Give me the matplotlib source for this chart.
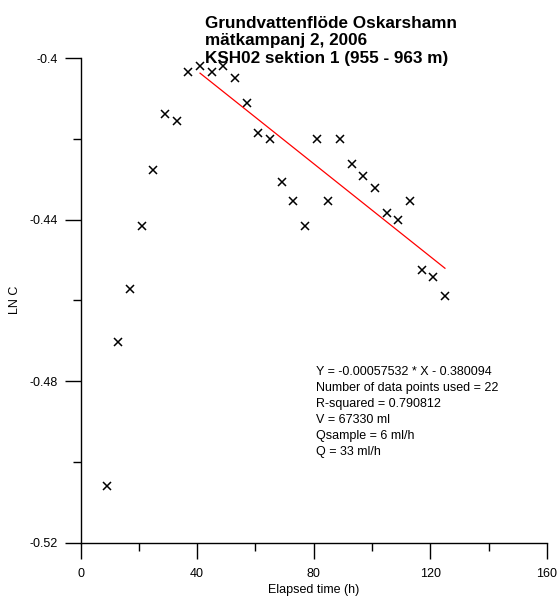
import numpy as np
import matplotlib
matplotlib.use("Agg")
import matplotlib.pyplot as plt
from matplotlib.ticker import MultipleLocator, FuncFormatter

plt.rcParams['font.family'] = ['Liberation Sans', 'DejaVu Sans']
plt.rcParams['axes.unicode_minus'] = False

# Datos
tiempo = [9, 13, 17, 21, 25, 29, 33, 37, 41, 45, 49, 53, 57, 61, 65, 69, 73,
          77, 81, 85, 89, 93, 97, 101, 105, 109, 113, 117, 121, 125]
ln_c = [-0.5059, -0.4702, -0.4572, -0.4415, -0.4277, -0.4139, -0.4155,
        -0.4035, -0.4019, -0.4035, -0.4019, -0.4050, -0.4110, -0.4184,
        -0.4201, -0.4307, -0.4353, -0.4415, -0.4201, -0.4353, -0.4201,
        -0.4262, -0.4292, -0.4322, -0.4384, -0.4400, -0.4353, -0.4524,
        -0.4541, -0.4588]

# Recta de regresion (coeficientes del texto)
pendiente = -0.00057532
intercepto = -0.380094
rango_ajuste = [41, 125]

titulo = ["Grundvattenflöde Oskarshamn",
          "mätkampanj 2, 2006",
          "KSH02 sektion 1 (955 - 963 m)"]
info = ["Y = -0.00057532 * X - 0.380094",
        "Number of data points used = 22",
        "R-squared = 0.790812",
        "V = 67330 ml",
        "Qsample = 6 ml/h",
        "Q = 33 ml/h"]

W, H = 559, 599
fig = plt.figure(figsize=(W / 100, H / 100), dpi=100, facecolor='white')
ax = fig.add_axes([80.5 / W, 1 - 542.7 / H, (547 - 80.5) / W, (542.7 - 58.3) / H])

ax.plot(tiempo, ln_c, 'x', color='black', markersize=6, markeredgewidth=1.1,
        clip_on=False)
xf = np.array(rango_ajuste, dtype=float)
ax.plot(xf, pendiente * xf + intercepto, color='red', lw=0.9)

ax.set_xlim(0, 160)
ax.set_ylim(-0.52, -0.4)
ax.xaxis.set_major_locator(MultipleLocator(40))
ax.xaxis.set_minor_locator(MultipleLocator(20))
ax.yaxis.set_major_locator(MultipleLocator(0.04))
ax.yaxis.set_minor_locator(MultipleLocator(0.02))
ax.yaxis.set_major_formatter(FuncFormatter(lambda v, p: '%g' % round(v, 4)))

for s in ['top', 'right']:
    ax.spines[s].set_visible(False)
for s in ['left', 'bottom']:
    ax.spines[s].set_linewidth(1.0)

ax.tick_params(which='major', direction='out', length=11.5, width=1.0,
               labelsize=9, colors='black')
ax.tick_params(which='minor', direction='out', length=5.8, width=1.0)
ax.tick_params(axis='y', which='major', pad=5)
ax.tick_params(axis='x', which='major', pad=7)

fig.text(15 / W, 1 - 300 / H, "LN C", rotation=90, ha='center', va='center',
         fontsize=9)
fig.text(314 / W, 1 - 590 / H, "Elapsed time (h)", ha='center', va='center',
         fontsize=9)

# Titulo en tres lineas
for i, linea in enumerate(titulo):
    fig.text(205 / W, 1 - (28 + 17.5 * i) / H, linea, ha='left',
             va='baseline', fontsize=12.3, fontweight='bold')

# Bloque de texto con la regresion
for i, linea in enumerate(info):
    fig.text(315.7 / W, 1 - (375 + 16 * i) / H, linea, ha='left',
             va='baseline', fontsize=9)

fig.savefig('out.png', dpi=100)
